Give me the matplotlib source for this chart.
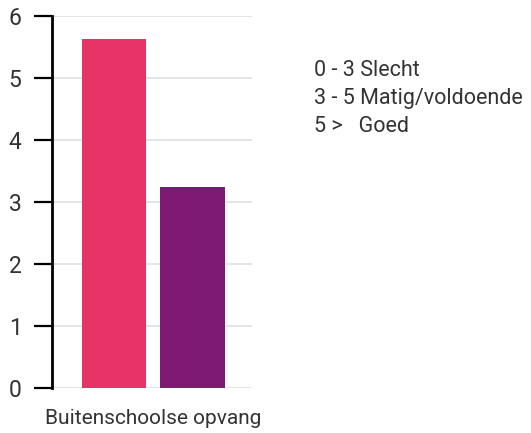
import matplotlib.pyplot as plt

plt.rcParams['font.family'] = ['Roboto', 'DejaVu Sans']

categorie = "Buitenschoolse opvang"
series_waarden = [5.63, 3.24]
kleuren = ["#e73467", "#7e1a73"]
legenda_regels = ["0 - 3 Slecht", "3 - 5 Matig/voldoende", "5 >   Goed"]
yticks = [0, 1, 2, 3, 4, 5, 6]

fig = plt.figure(figsize=(5.31, 4.33), dpi=100)
ax = fig.add_axes([52/531, 45/433, 200/531, 372/433])

posities = [-0.5, 0.5]
ax.bar(posities, series_waarden, width=0.82, color=kleuren, zorder=3)

ax.set_xlim(-1.29, 1.258)
ax.set_ylim(0, 6)
ax.set_yticks(yticks)
ax.set_xticks([0])
ax.set_xticklabels([categorie])

ax.grid(axis="y", color="#e4e4e4", linewidth=1.4, zorder=0)
ax.set_axisbelow(True)
for s in ["top", "right", "bottom"]:
    ax.spines[s].set_visible(False)
ax.spines["left"].set_linewidth(2)
ax.spines["left"].set_color("black")
ax.tick_params(axis="y", length=13, width=1.6, color="black", labelsize=16.5,
               labelcolor="#333333", pad=9)
ax.tick_params(axis="x", length=0, labelsize=15, labelcolor="#333333", pad=15)

for i, regel in enumerate(legenda_regels):
    fig.text(314/531, (433 - 71 - i*27.5)/433, regel, fontsize=15.5,
             color="#333333", va="center", ha="left")

fig.savefig("out.png", dpi=100)
